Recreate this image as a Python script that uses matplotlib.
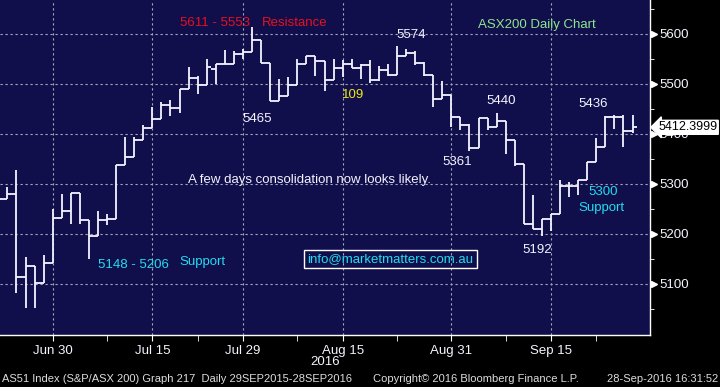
import matplotlib
matplotlib.use("Agg")
import matplotlib.pyplot as plt
from matplotlib.transforms import blended_transform_factory

plt.rcParams['font.family'] = ['Liberation Sans', 'DejaVu Sans']

dates = ["Jun 22", "Jun 23", "Jun 24", "Jun 27", "Jun 28", "Jun 29", "Jun 30",
         "Jul 1", "Jul 4", "Jul 5", "Jul 6", "Jul 7", "Jul 8", "Jul 11", "Jul 12", "Jul 13",
         "Jul 14", "Jul 15", "Jul 18", "Jul 19", "Jul 20", "Jul 21", "Jul 22", "Jul 25",
         "Jul 26", "Jul 27", "Jul 28", "Jul 29",
         "Aug 1", "Aug 2", "Aug 3", "Aug 4", "Aug 5", "Aug 8", "Aug 9", "Aug 10", "Aug 11",
         "Aug 12", "Aug 15", "Aug 16", "Aug 17", "Aug 18", "Aug 19", "Aug 22", "Aug 23",
         "Aug 24", "Aug 25", "Aug 26", "Aug 29", "Aug 30", "Aug 31",
         "Sep 1", "Sep 2", "Sep 5", "Sep 6", "Sep 7", "Sep 8", "Sep 9", "Sep 12", "Sep 13",
         "Sep 14", "Sep 15", "Sep 16", "Sep 19", "Sep 20", "Sep 21", "Sep 22", "Sep 23",
         "Sep 26", "Sep 27", "Sep 28"]

opens = [5265, 5270, 5280, 5113, 5136, 5102, 5142,
         5232, 5246, 5282, 5228, 5195, 5228, 5230, 5338, 5354,
         5388, 5412, 5430, 5458, 5452, 5490, 5512, 5498,
         5530, 5540, 5540, 5559,
         5563, 5588, 5542, 5466, 5476, 5498, 5539, 5555, 5545,
         5508, 5532, 5540, 5532, 5537, 5508, 5528, 5517,
         5555, 5562, 5542, 5517, 5470, 5478,
         5433, 5417, 5372, 5431, 5413, 5425, 5387, 5340, 5219,
         5209, 5230, 5240, 5295, 5295, 5307, 5343, 5373,
         5433, 5433, 5405]
highs = [5278, 5293, 5327, 5154, 5136, 5157, 5249,
         5279, 5282, 5282, 5228, 5245, 5239, 5338, 5393, 5393,
         5417, 5453, 5463, 5467, 5490, 5533, 5515, 5550,
         5540, 5567, 5565, 5570,
         5613, 5588, 5542, 5510, 5513, 5550, 5555, 5555, 5545,
         5550, 5547, 5550, 5539, 5547, 5535, 5539, 5575,
         5570, 5565, 5543, 5517, 5505, 5478,
         5433, 5420, 5431, 5431, 5441, 5425, 5387, 5340, 5277,
         5230, 5240, 5307, 5303, 5307, 5343, 5392, 5435,
         5437, 5437, 5437]
lows = [5258, 5270, 5081, 5051, 5051, 5102, 5142,
        5232, 5219, 5220, 5149, 5195, 5217, 5230, 5338, 5354,
        5388, 5412, 5430, 5435, 5442, 5490, 5480, 5498,
        5500, 5540, 5540, 5550,
        5563, 5542, 5466, 5466, 5476, 5498, 5539, 5515, 5485,
        5508, 5513, 5532, 5510, 5501, 5505, 5515, 5517,
        5555, 5538, 5515, 5453, 5470, 5413,
        5407, 5365, 5372, 5407, 5413, 5360, 5335, 5219, 5209,
        5195, 5205, 5240, 5273, 5278, 5307, 5343, 5373,
        5410, 5373, 5401]
closes = [5270, 5280, 5113, 5136, 5102, 5142, 5232,
          5246, 5282, 5228, 5195, 5228, 5230, 5338, 5354, 5388,
          5412, 5430, 5458, 5452, 5490, 5512, 5498, 5534,
          5540, 5540, 5559, 5563,
          5588, 5542, 5466, 5476, 5498, 5539, 5555, 5545, 5508,
          5532, 5540, 5532, 5537, 5508, 5528, 5517, 5555,
          5562, 5542, 5517, 5470, 5478, 5433,
          5417, 5372, 5431, 5413, 5425, 5387, 5340, 5219, 5209,
          5230, 5240, 5295, 5295, 5307, 5343, 5373, 5433,
          5433, 5405, 5412.3999]

major_dates = ["Jun 30", "Jul 15", "Jul 29", "Aug 15", "Aug 31", "Sep 15"]
minor_dates = ["Jul 8", "Jul 22", "Aug 8", "Aug 23", "Sep 8", "Sep 22"]
y_major = [5100, 5200, 5300, 5400, 5500, 5600]
y_minor = [5050, 5150, 5250, 5350, 5450, 5550, 5650]

NAVY = '#110f4b'
WHITE = '#f4f4ff'
CYAN = '#22dcef'
RED = '#e8101e'
GREEN = '#8ee68e'
YELLOW = '#ecec10'

fig = plt.figure(figsize=(7.2, 3.87), dpi=100, facecolor='black')
ax = fig.add_axes([0, 1 - 335 / 387, 650 / 720, 335 / 387])
ax.set_facecolor(NAVY)

xs = list(range(len(dates)))
lw = 1.3
ax.vlines(xs, lows, highs, color=WHITE, lw=lw)
ax.hlines(opens, [x - 0.5 for x in xs], xs, color=WHITE, lw=lw)
ax.hlines(closes, xs, [x + 0.5 for x in xs], color=WHITE, lw=lw)

ax.set_xlim(0.18, 71.93)
ax.set_ylim(4997, 5667)

maj_idx = [dates.index(d) for d in major_dates]
min_idx = [dates.index(d) for d in minor_dates]
ax.set_xticks(maj_idx)
ax.set_xticklabels(major_dates)
ax.set_xticks(min_idx, minor=True)
ax.yaxis.tick_right()
ax.set_yticks(y_major)
ax.set_yticklabels([str(v) for v in y_major])
ax.set_yticks(y_minor, minor=True)
ax.grid(True, which='major', color='#a8a8b8', linestyle=(0, (2, 2.5)), lw=0.8)

for s in ['left', 'top']:
    ax.spines[s].set_visible(False)
for s in ['right', 'bottom']:
    ax.spines[s].set_color('white')
    ax.spines[s].set_linewidth(1.0)

ax.tick_params(axis='x', which='both', direction='out', length=4, color='white',
               labelcolor=WHITE, labelsize=9.5, pad=3)
ax.tick_params(axis='y', which='major', length=0, labelcolor=WHITE, labelsize=9.5, pad=6.5)
ax.tick_params(axis='y', which='minor', direction='out', length=3, color='white')

tr = blended_transform_factory(ax.transAxes, ax.transData)
ax.plot([1.0055] * len(y_major), y_major, ls='none', marker='>', ms=5,
        color='white', transform=tr, clip_on=False)

# last price box
ax.text(1.0125, closes[-1], f"{closes[-1]:.4f}", transform=tr, color='black',
        fontsize=9, va='center', ha='left', zorder=10,
        bbox=dict(boxstyle='larrow,pad=0.08', fc='white', ec='white'))

def t(x, y, s, c, **kw):
    ax.text(x, y, s, color=c, fontsize=9.5, ha='left', va='center', **kw)

t(20.05, 5620, "5611 - 5553", RED)
t(29.1, 5620, "Resistance", RED)
t(52.9, 5617, "ASX200 Daily Chart", GREEN)
t(43.9, 5597, "5574", WHITE)
t(26.9, 5429, "5465", WHITE)
t(37.9, 5477, "109", YELLOW)
t(53.9, 5465, "5440", WHITE)
t(64.0, 5459, "5436", WHITE)
t(49.0, 5343, "5361", WHITE)
t(20.95, 5307, "A few days consolidation now looks likely.", WHITE)
t(65.1, 5283, "5300", CYAN)
t(64.0, 5251, "Support", CYAN)
t(57.9, 5167, "5192", WHITE)
t(11.0, 5137, "5148 - 5206", CYAN)
t(19.95, 5143, "Support", CYAN)
ax.text(34.1, 5149, "info@marketmatters.com.au", color=CYAN, fontsize=9.5,
        ha='left', va='center',
        bbox=dict(boxstyle='square,pad=0.25', fc='none', ec='white', lw=1))

fig.text(325 / 720, 1 - 362 / 387, "2016", color=WHITE, fontsize=9.5, ha='center', va='center')
fig.text(2 / 720, 1 - 379 / 387, "AS51 Index (S&P/ASX 200) Graph 217  Daily 29SEP2015-28SEP2016",
         color='#dcdcdc', fontsize=8, ha='left', va='center')
fig.text(373 / 720, 1 - 379 / 387, "Copyright\u00a9 2016 Bloomberg Finance L.P.",
         color='#dcdcdc', fontsize=8, ha='left', va='center')
fig.text(718 / 720, 1 - 379 / 387, "28-Sep-2016 16:31:52",
         color='#dcdcdc', fontsize=8, ha='right', va='center')

fig.savefig("out.png", dpi=100, facecolor='black')
